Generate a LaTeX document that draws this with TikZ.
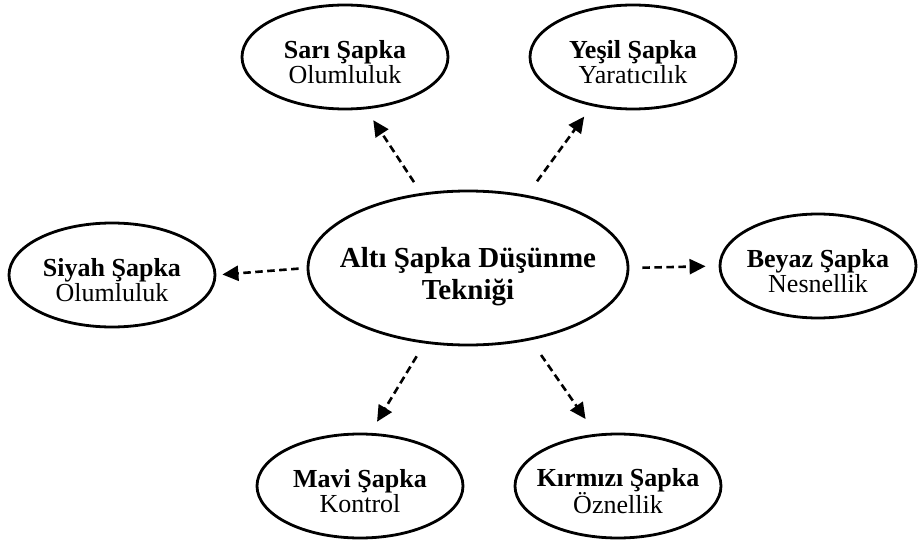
\documentclass[tikz,border=0pt]{standalone}
\usepackage{fontspec}
\setmainfont{Liberation Serif}
\usetikzlibrary{arrows.meta, shapes.geometric}
\tikzset{
  every picture/.style={line width=2pt},
  hat/.style={ellipse, draw, line width=2.8pt, align=center, inner xsep=-20pt, inner ysep=0pt,
    minimum width=206pt, minimum height=104pt, font=\fontsize{26}{25.5}\selectfont},
  main/.style={hat, inner xsep=-25pt, minimum width=320pt, minimum height=154pt,
    font=\fontsize{29}{32}\selectfont\bfseries},
  link/.style={-{Triangle[length=16pt, width=15pt]}, dash pattern=on 7.5pt off 4.5pt,
    line width=2.6pt, shorten <=13pt, shorten >=13pt},
}
\newcommand{\hatnode}[6][]{
  \node[hat, #1] (#2) at (#3,#4) {\rule{0pt}{28pt}\textbf{#5}\\#6};
}

\begin{document}
\begin{tikzpicture}[x=1pt, y=-1pt]
  \useasboundingbox (0,0) rectangle (918,540);
  % the technique
  \node[main] (c) at (468,268) {\rule{0pt}{38pt}Altı Şapka Düşünme\\Tekniği};
  % the six hats
  \hatnode{sari}{345}{57}{Sarı Şapka}{Olumluluk}
  \hatnode{yesil}{633}{57}{Yeşil Şapka}{Yaratıcılık}
  \hatnode{siyah}{112}{275}{Siyah Şapka}{Olumluluk}
  \hatnode[minimum width=196pt]{beyaz}{818}{266}{Beyaz Şapka}{Nesnellik}
  \hatnode{mavi}{360}{486}{Mavi Şapka}{Kontrol}
  \hatnode{kirmizi}{618}{486}{Kırmızı Şapka}{Öznellik}
  % arrows out of the centre
  \draw[link] (c.122) -- (sari.-68);
  \draw[link, shorten <=17pt] (c.51) -- (yesil.-130);
  \draw[link, shorten <=8pt, shorten >=6pt] (c.west) -- (siyah.east);
  \draw[link] (c.east) -- (beyaz.west);
  \draw[link, shorten <=15pt] (c.-120) -- (mavi.79);
  \draw[link, shorten <=18pt, shorten >=18pt] (c.-49) -- (kirmizi.113);
\end{tikzpicture}
\end{document}
